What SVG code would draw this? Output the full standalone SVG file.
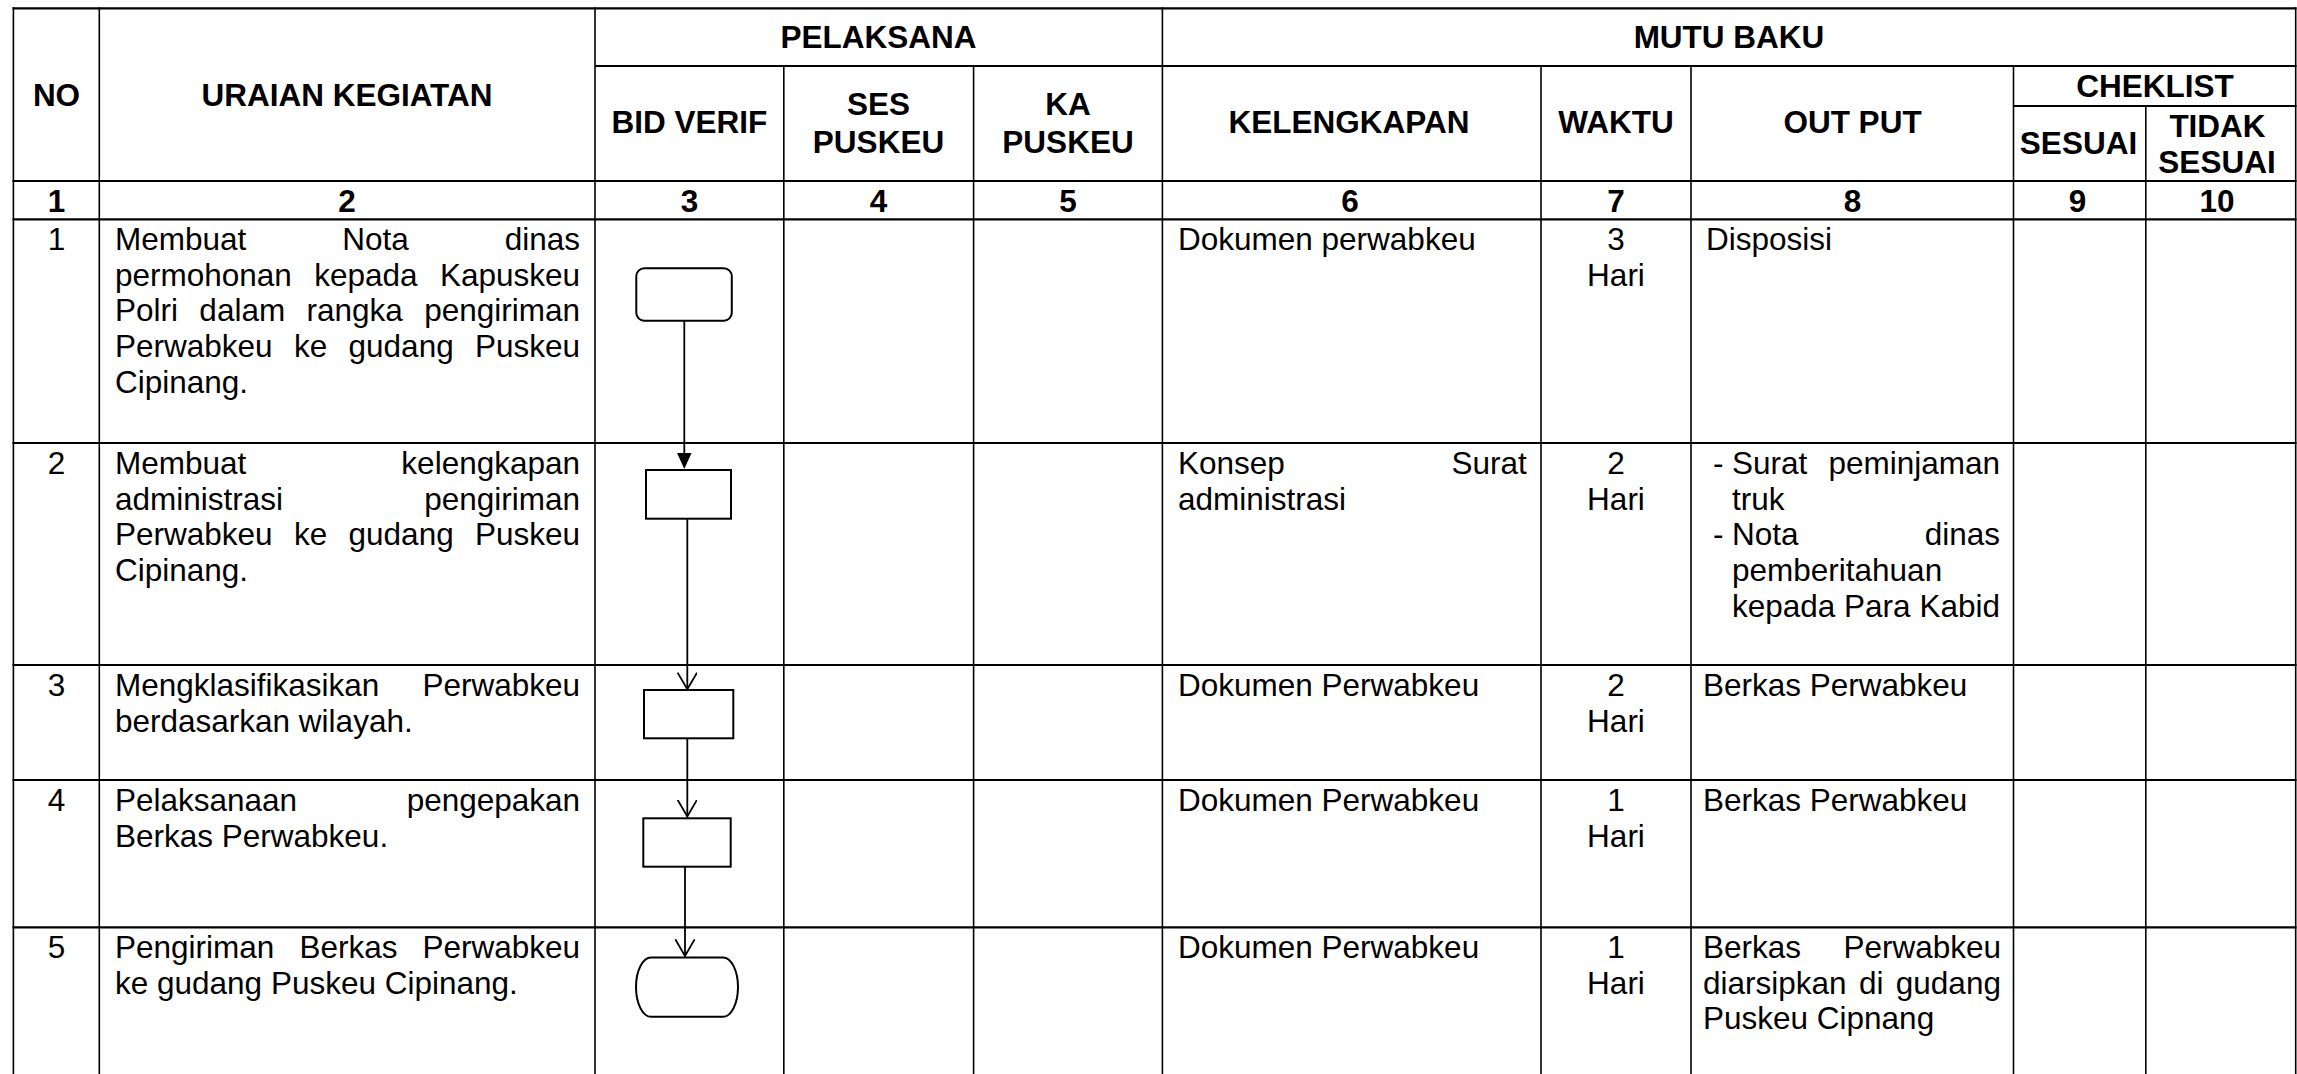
<svg xmlns="http://www.w3.org/2000/svg" width="2297" height="1074" viewBox="0 0 2297 1074">
<style>
.h{stroke:#000;stroke-width:2.2}
.v{stroke:#000;stroke-width:1.6}
.hd{font-family:"Liberation Sans",Arial,sans-serif;font-weight:bold;font-size:31.5px;text-anchor:middle;fill:#000}
.tx{font-family:"Liberation Sans",Arial,sans-serif;font-size:31.5px;fill:#000}
.c{text-anchor:middle}
.node{fill:#fff;stroke:#000;stroke-width:2}
.conn{stroke:#000;stroke-width:1.8;fill:none}
</style>
<defs>
<marker id="filled" markerUnits="userSpaceOnUse" markerWidth="18" markerHeight="16" refX="7.7" refY="7.3" orient="auto">
<path d="M0,0 L16,7.3 L0,14.6 Z" fill="#000"/>
</marker>
<marker id="open" markerUnits="userSpaceOnUse" markerWidth="20" markerHeight="22" refX="17" refY="10" orient="auto">
<path d="M0.3,0.3 L17,10 L0.3,19.7" fill="none" stroke="#000" stroke-width="1.8"/>
</marker>
</defs>
<rect width="2297" height="1074" fill="#fff"/>

<g id="table-grid">
<line class="h" x1="12.5" y1="8.3" x2="2296.5" y2="8.3"/>
<line class="h" x1="595" y1="66" x2="2296.5" y2="66"/>
<line class="h" x1="2013.5" y1="106" x2="2296.5" y2="106"/>
<line class="h" x1="12.5" y1="181" x2="2296.5" y2="181"/>
<line class="h" x1="12.5" y1="219.3" x2="2296.5" y2="219.3"/>
<line class="h" x1="12.5" y1="443" x2="2296.5" y2="443"/>
<line class="h" x1="12.5" y1="665" x2="2296.5" y2="665"/>
<line class="h" x1="12.5" y1="780" x2="2296.5" y2="780"/>
<line class="h" x1="12.5" y1="927.3" x2="2296.5" y2="927.3"/>
<line class="v" x1="13.4" y1="7.2" x2="13.4" y2="1074"/>
<line class="v" x1="99.3" y1="7.2" x2="99.3" y2="1074"/>
<line class="v" x1="595" y1="7.2" x2="595" y2="1074"/>
<line class="v" x1="783.8" y1="66" x2="783.8" y2="1074"/>
<line class="v" x1="973.6" y1="66" x2="973.6" y2="1074"/>
<line class="v" x1="1162.4" y1="7.2" x2="1162.4" y2="1074"/>
<line class="v" x1="1541" y1="66" x2="1541" y2="1074"/>
<line class="v" x1="1691" y1="66" x2="1691" y2="1074"/>
<line class="v" x1="2013.5" y1="66" x2="2013.5" y2="1074"/>
<line class="v" x1="2145.8" y1="106" x2="2145.8" y2="1074"/>
<line class="v" x1="2295.7" y1="7.2" x2="2295.7" y2="1074"/>
</g>

<g id="header">
<text class="hd" x="878.5" y="48.3">PELAKSANA</text>
<text class="hd" x="1729" y="48.3">MUTU BAKU</text>
<text class="hd" x="56.5" y="106">NO</text>
<text class="hd" x="347" y="106">URAIAN KEGIATAN</text>
<text class="hd" x="689.4" y="133">BID VERIF</text>
<text class="hd" x="878.5" y="115">SES</text>
<text class="hd" x="878.5" y="153.3">PUSKEU</text>
<text class="hd" x="1068" y="115">KA</text>
<text class="hd" x="1068" y="153.3">PUSKEU</text>
<text class="hd" x="1349" y="133">KELENGKAPAN</text>
<text class="hd" x="1616" y="133">WAKTU</text>
<text class="hd" x="1852.5" y="133">OUT PUT</text>
<text class="hd" x="2155" y="96.7">CHEKLIST</text>
<text class="hd" x="2078.5" y="154.3">SESUAI</text>
<text class="hd" x="2217.5" y="136.5">TIDAK</text>
<text class="hd" x="2217" y="173.3">SESUAI</text>
<text class="hd" x="56.5" y="212">1</text>
<text class="hd" x="347" y="212">2</text>
<text class="hd" x="689.4" y="212">3</text>
<text class="hd" x="878.5" y="212">4</text>
<text class="hd" x="1068" y="212">5</text>
<text class="hd" x="1350" y="212">6</text>
<text class="hd" x="1616" y="212">7</text>
<text class="hd" x="1852.5" y="212">8</text>
<text class="hd" x="2077.5" y="212">9</text>
<text class="hd" x="2217" y="212">10</text>
</g>

<g id="row1">
<text class="tx c" x="56.5" y="250">1</text>
<text class="tx" x="115" y="250" word-spacing="87.2">Membuat Nota dinas</text>
<text class="tx" x="115" y="285.7" word-spacing="13.6">permohonan kepada Kapuskeu</text>
<text class="tx" x="115" y="321.4" word-spacing="12.6">Polri dalam rangka pengiriman</text>
<text class="tx" x="115" y="357.1" word-spacing="12.6">Perwabkeu ke gudang Puskeu</text>
<text class="tx" x="115" y="392.8">Cipinang.</text>
<text class="tx" x="1178" y="250">Dokumen perwabkeu</text>
<text class="tx c" x="1616" y="250">3</text>
<text class="tx c" x="1616" y="285.7">Hari</text>
<text class="tx" x="1706" y="250">Disposisi</text>
</g>

<g id="row2">
<text class="tx c" x="56.5" y="474">2</text>
<text class="tx" x="115" y="474" word-spacing="146.3">Membuat kelengkapan</text>
<text class="tx" x="115" y="509.7" word-spacing="132.4">administrasi pengiriman</text>
<text class="tx" x="115" y="545.4" word-spacing="12.6">Perwabkeu ke gudang Puskeu</text>
<text class="tx" x="115" y="581.1">Cipinang.</text>
<text class="tx" x="1178" y="474" word-spacing="158">Konsep Surat</text>
<text class="tx" x="1178" y="509.7">administrasi</text>
<text class="tx c" x="1616" y="474">2</text>
<text class="tx c" x="1616" y="509.7">Hari</text>
<text class="tx" x="1713" y="474">-</text>
<text class="tx" x="1732" y="474" word-spacing="12.4">Surat peminjaman</text>
<text class="tx" x="1732" y="509.7">truk</text>
<text class="tx" x="1713" y="545.4">-</text>
<text class="tx" x="1732" y="545.4" word-spacing="117.4">Nota dinas</text>
<text class="tx" x="1732" y="581.1">pemberitahuan</text>
<text class="tx" x="1732" y="616.8">kepada Para Kabid</text>
</g>

<g id="row3">
<text class="tx c" x="56.5" y="696">3</text>
<text class="tx" x="115" y="696" word-spacing="34.4">Mengklasifikasikan Perwabkeu</text>
<text class="tx" x="115" y="731.7">berdasarkan wilayah.</text>
<text class="tx" x="1178" y="696">Dokumen Perwabkeu</text>
<text class="tx c" x="1616" y="696">2</text>
<text class="tx c" x="1616" y="731.7">Hari</text>
<text class="tx" x="1703" y="696">Berkas Perwabkeu</text>
</g>

<g id="row4">
<text class="tx c" x="56.5" y="811">4</text>
<text class="tx" x="115" y="811" word-spacing="100.8">Pelaksanaan pengepakan</text>
<text class="tx" x="115" y="846.7">Berkas Perwabkeu.</text>
<text class="tx" x="1178" y="811">Dokumen Perwabkeu</text>
<text class="tx c" x="1616" y="811">1</text>
<text class="tx c" x="1616" y="846.7">Hari</text>
<text class="tx" x="1703" y="811">Berkas Perwabkeu</text>
</g>

<g id="row5">
<text class="tx c" x="56.5" y="958">5</text>
<text class="tx" x="115" y="958" word-spacing="16.3">Pengiriman Berkas Perwabkeu</text>
<text class="tx" x="115" y="993.7">ke gudang Puskeu Cipinang.</text>
<text class="tx" x="1178" y="958">Dokumen Perwabkeu</text>
<text class="tx c" x="1616" y="958">1</text>
<text class="tx c" x="1616" y="993.7">Hari</text>
<text class="tx" x="1703" y="958" word-spacing="33.7">Berkas Perwabkeu</text>
<text class="tx" x="1703" y="993.7" word-spacing="3.6">diarsipkan di gudang</text>
<text class="tx" x="1703" y="1029.4">Puskeu Cipnang</text>
</g>

<g id="connectors">
<path class="conn" d="M684.3,320.7 V460.6" marker-end="url(#filled)"/>
<path class="conn" d="M687.3,518.7 V689.3" marker-end="url(#open)"/>
<path class="conn" d="M687.3,738.3 V816.5" marker-end="url(#open)"/>
<path class="conn" d="M685,866.7 V956" marker-end="url(#open)"/>
</g>

<g id="node-1-start">
<rect class="node" x="636.3" y="268.3" width="95.5" height="52.4" rx="8" ry="8"/>
</g>
<g id="node-2">
<rect class="node" x="646" y="470" width="85" height="48.7"/>
</g>
<g id="node-3">
<rect class="node" x="644" y="690" width="89.3" height="48.3"/>
</g>
<g id="node-4">
<rect class="node" x="643.3" y="818.3" width="87.4" height="48.4"/>
</g>
<g id="node-5-end">
<path class="node" d="M651,957.4 H723 A15,29.7 0 0 1 723,1016.8 H651 A15,29.7 0 0 1 651,957.4 Z"/>
</g>
</svg>
